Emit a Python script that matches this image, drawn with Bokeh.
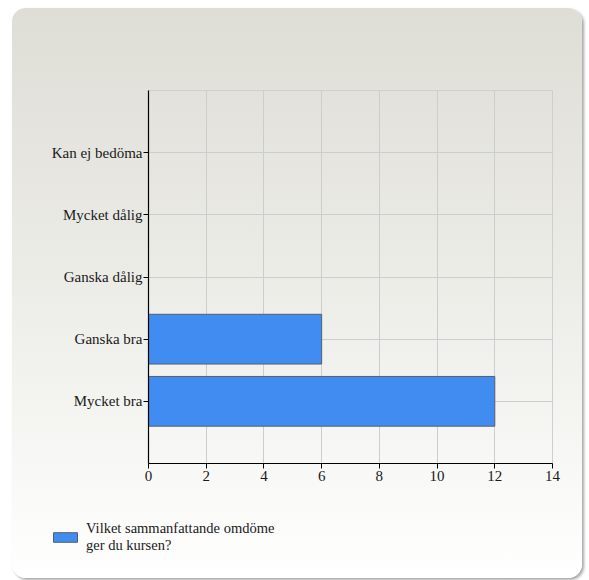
from bokeh.plotting import figure
from bokeh.layouts import column
from bokeh.models import FixedTicker, Range1d, Legend, LegendItem, Column
from bokeh.embed import file_html
from bokeh.resources import INLINE

categories = ["Mycket bra", "Ganska bra", "Ganska dålig", "Mycket dålig", "Kan ej bedöma"]
values = [12, 6, 0, 0, 0]
series_name = "Vilket sammanfattande omdöme\nger du kursen?"
x_ticks = [0, 2, 4, 6, 8, 10, 12, 14]

positions = list(range(1, len(categories) + 1))
FONT = "Liberation Serif"
BAR_FILL = "#418CF0"
BAR_LINE = "#55606e"

p = figure(width=570, height=490, output_backend="svg", toolbar_location=None,
           x_range=Range1d(0, 14), y_range=Range1d(0, 6),
           min_border_left=136, min_border_right=30, min_border_top=82, min_border_bottom=35)
p.border_fill_color = None
p.background_fill_color = None
p.outline_line_color = "#cfcfcf"

r = p.hbar(y=positions, right=values, left=0, height=0.8,
           fill_color=BAR_FILL, line_color=BAR_LINE, line_width=1)

p.xaxis.ticker = FixedTicker(ticks=x_ticks)
p.yaxis.ticker = FixedTicker(ticks=positions)
p.yaxis.major_label_overrides = {pos: c for pos, c in zip(positions, categories)}

for ax in (p.xaxis[0], p.yaxis[0]):
    ax.axis_line_color = "black"
    ax.axis_line_width = 1.2
    ax.major_tick_line_color = "black"
    ax.major_tick_in = 0
    ax.major_tick_out = 5
    ax.minor_tick_line_color = None
    ax.major_label_text_font = FONT
    ax.major_label_text_font_size = "15px"
    ax.major_label_text_color = "#1a1a1a"
p.xaxis.major_label_standoff = 2
p.yaxis.major_label_standoff = 1

p.xgrid.ticker = FixedTicker(ticks=x_ticks)
p.ygrid.ticker = FixedTicker(ticks=positions)
p.xgrid.grid_line_color = "#cdcdcd"
p.ygrid.grid_line_color = "#cdcdcd"

# legend panel (same series style; renderer hidden so only the legend shows)
lf = figure(width=570, height=80, output_backend="svg", toolbar_location=None,
            x_range=Range1d(0, 1), y_range=Range1d(0, 1),
            min_border=0, min_border_left=0, min_border_right=0,
            min_border_top=0, min_border_bottom=0)
lf.axis.visible = False
lf.grid.visible = False
lf.outline_line_color = None
lf.border_fill_color = None
lf.background_fill_color = None
lr = lf.hbar(y=[positions[0]], right=[values[0]], left=0, height=0.8,
             fill_color=BAR_FILL, line_color=BAR_LINE, line_width=1)
lr.visible = False

legend = Legend(items=[LegendItem(label=series_name, renderers=[lr])],
                location=(38, 24), orientation="vertical",
                glyph_width=30, glyph_height=12, label_standoff=6,
                padding=0, margin=0, border_line_color=None,
                background_fill_color=None, background_fill_alpha=0,
                inactive_fill_alpha=0,
                label_text_font=FONT, label_text_font_size="14.5px",
                label_text_color="#1a1a1a", label_text_line_height=1.05)
lf.add_layout(legend, "center")

layout = column(Column(p), Column(lf), spacing=0)
layout.margin = (8, 0, 0, 12)
layout.styles = {
    "background": "linear-gradient(to bottom, #DEDDD6 0%, #F0F0EC 60%, #FFFFFF 100%)",
    "border-radius": "14px",
    "box-shadow": "2px 2px 3px rgba(0,0,0,0.35)",
}

open("out.html", "w").write(file_html(layout, INLINE))
